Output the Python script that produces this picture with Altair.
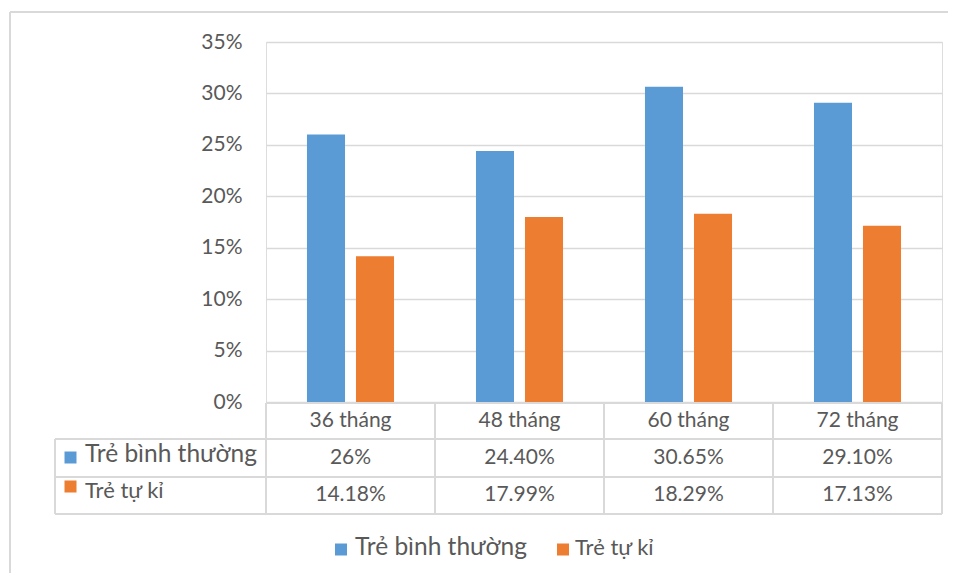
import altair as alt
import pandas as pd

categories = ["36 tháng", "48 tháng", "60 tháng", "72 tháng"]
series = ["Trẻ bình thường", "Trẻ tự kỉ"]
normal_values = [0.26, 0.2440, 0.3065, 0.2910]
autism_values = [0.1418, 0.1799, 0.1829, 0.1713]
normal_labels = ["26%", "24.40%", "30.65%", "29.10%"]
autism_labels = ["14.18%", "17.99%", "18.29%", "17.13%"]
colors = ["#5B9BD5", "#ED7D31"]
y_ticks = [0, 0.05, 0.10, 0.15, 0.20, 0.25, 0.30, 0.35]

FONT = "Lato"
TXT = "#595959"
LINE = "#d9d9d9"
W, H = 676, 360

bars_df = pd.DataFrame({
    "cat": categories * 2,
    "series": [series[0]] * 4 + [series[1]] * 4,
    "value": normal_values + autism_values,
})
cat_df = pd.DataFrame({"cat": categories})
row1_df = pd.DataFrame({"cat": categories, "label": normal_labels})
row2_df = pd.DataFrame({"cat": categories, "label": autism_labels})
one = pd.DataFrame({"a": [0]})

xenc = alt.X("cat:N", sort=categories, scale=alt.Scale(paddingInner=0, paddingOuter=0), axis=None)

bars = alt.Chart(bars_df).mark_bar().encode(
    x=xenc,
    xOffset=alt.XOffset("series:N", sort=series,
                        scale=alt.Scale(paddingInner=0.224, paddingOuter=0.836)),
    y=alt.Y("value:Q", scale=alt.Scale(domain=[0, 0.35], nice=False),
            axis=alt.Axis(values=y_ticks, format=".0%", title=None, domain=False, ticks=False,
                          grid=True, gridColor=LINE, gridWidth=1.5,
                          labelFont=FONT, labelFontSize=21, labelColor=TXT, labelPadding=24)),
    color=alt.Color("series:N", scale=alt.Scale(domain=series, range=colors), legend=None),
)

cat_text = alt.Chart(cat_df).mark_text(font=FONT, fontSize=21, color=TXT, baseline="middle").encode(
    x=xenc, y=alt.value(378.5), text="cat:N")
row1_text = alt.Chart(row1_df).mark_text(font=FONT, fontSize=21, color=TXT, baseline="middle").encode(
    x=xenc, y=alt.value(416), text="label:N")
row2_text = alt.Chart(row2_df).mark_text(font=FONT, fontSize=21, color=TXT, baseline="middle").encode(
    x=xenc, y=alt.value(453), text="label:N")

def hrule(x1, x2, y, w=2):
    return alt.Chart(one).mark_rule(color=LINE, strokeWidth=w).encode(
        x=alt.value(x1), x2=alt.value(x2), y=alt.value(y))

def vrule(x, y1, y2, w=2):
    return alt.Chart(one).mark_rule(color=LINE, strokeWidth=w).encode(
        x=alt.value(x), y=alt.value(y1), y2=alt.value(y2))

col_lines = alt.Chart(cat_df).mark_rule(color=LINE, strokeWidth=2).encode(
    x=alt.X("cat:N", sort=categories, scale=alt.Scale(paddingInner=0, paddingOuter=0),
            axis=None, bandPosition=0),
    y=alt.value(361), y2=alt.value(472))

lines = [
    hrule(0, W, 361), hrule(-211, W, 397), hrule(-211, W, 435), hrule(-211, W, 472),
    vrule(-211, 397, 472), vrule(W, 361, 472), col_lines,
    hrule(-256, 720, -30), vrule(-256, -30, 600),
]

legend_df = pd.DataFrame({"series": series, "color": colors})

def square(name, cx, cy):
    d = legend_df[legend_df.series == name]
    return alt.Chart(d).mark_square(size=144, opacity=1).encode(
        x=alt.value(cx), y=alt.value(cy), color=alt.Color("color:N", scale=None))

def label(name, x, y, size):
    d = legend_df[legend_df.series == name]
    return alt.Chart(d).mark_text(font=FONT, fontSize=size, color=TXT, align="left",
                                  baseline="middle").encode(
        x=alt.value(x), y=alt.value(y), text="series:N")

decor = [
    square(series[0], -195.5, 415.5), label(series[0], -181, 413, 24.5),
    square(series[1], -195.5, 444.5), label(series[1], -181, 449, 22),
    square(series[0], 75, 507.5), label(series[0], 89, 506, 24.5),
    square(series[1], 297, 507.5), label(series[1], 309, 506, 22),
]

chart = alt.layer(bars, *lines, cat_text, row1_text, row2_text, *decor).properties(
    width=W, height=H,
    autosize=alt.AutoSizeParams(type="none"),
    padding={"left": 258, "top": 34, "right": 6, "bottom": 171},
).configure_view(stroke=None).configure(background="white")

chart.save("out.html", embed_options={"renderer": "svg", "actions": False})
